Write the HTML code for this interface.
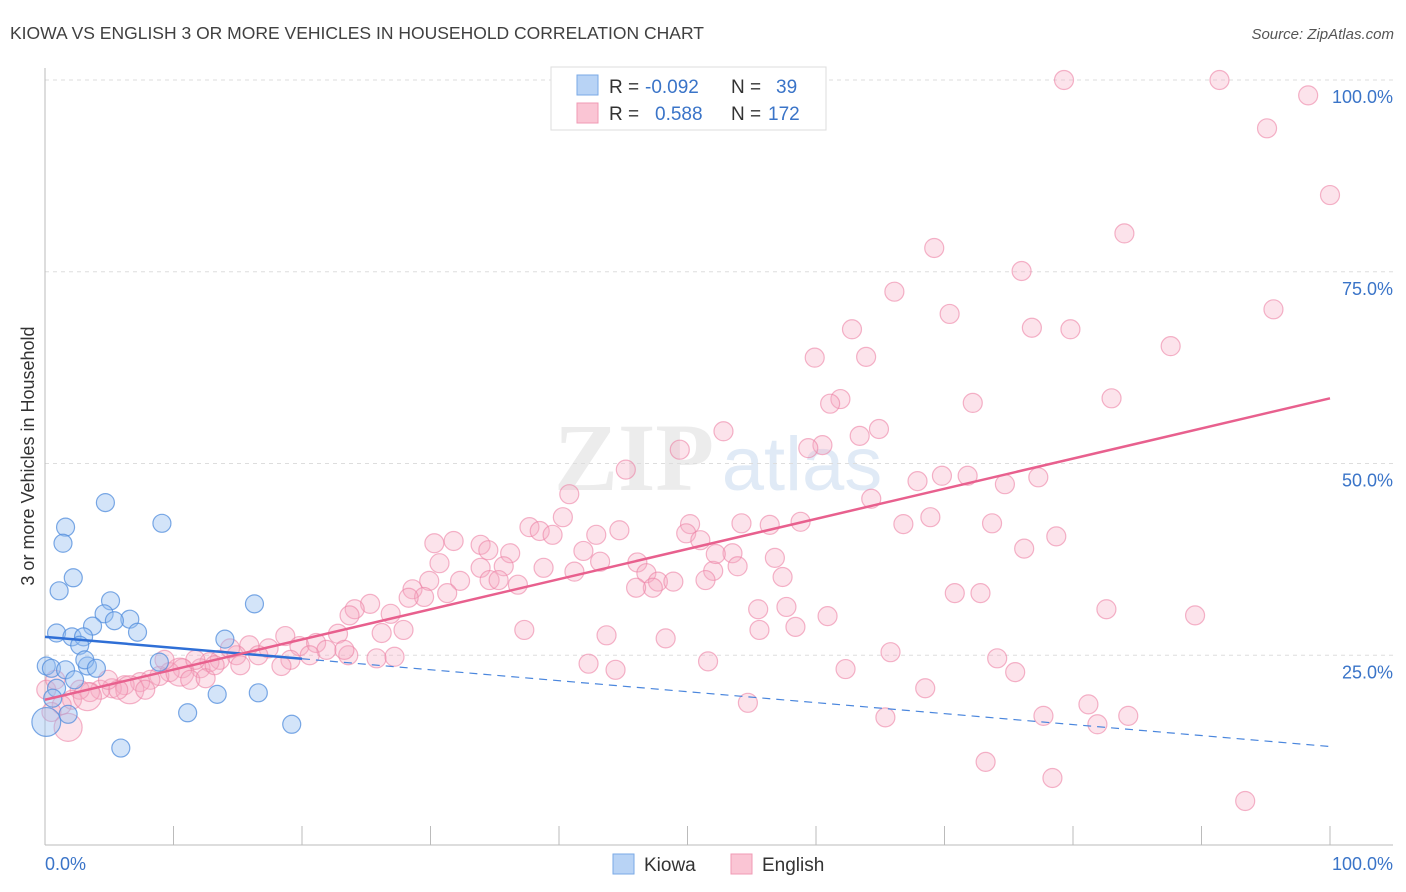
<!DOCTYPE html>
<html><head><meta charset="utf-8"><style>
body{margin:0;background:#fff;font-family:"Liberation Sans",sans-serif}
svg{display:block}
</style></head><body>
<svg width="1406" height="892" viewBox="0 0 1406 892" xmlns="http://www.w3.org/2000/svg">
<text x="10" y="39" font-size="17.5" fill="#404040">KIOWA VS ENGLISH 3 OR MORE VEHICLES IN HOUSEHOLD CORRELATION CHART</text>
<text x="1394" y="39" font-size="15" fill="#555" text-anchor="end" font-style="italic">Source: ZipAtlas.com</text>
<g opacity="0.35">
<text x="634" y="490" font-size="96" font-family="Liberation Serif,serif" fill="#c9c9c9" text-anchor="middle" font-weight="bold">ZIP</text>
<text x="802" y="490" font-size="76" fill="#a9c4e6" text-anchor="middle">atlas</text>
</g>
<g id="grid"></g>
<g id="axes"></g>
<g id="marks"></g>
<text transform="translate(34,456) rotate(-90)" font-size="18" fill="#333" text-anchor="middle">3 or more Vehicles in Household</text>
<text x="45" y="870" font-size="18" fill="#3a74c8">0.0%</text>
<text x="1393" y="870" font-size="18" fill="#3a74c8" text-anchor="end">100.0%</text>
<g>
<rect x="551" y="67" width="275" height="63" fill="#fff" stroke="#ddd"/>
<rect x="577" y="75" width="21" height="20" fill="#b8d3f5" stroke="#7aaae6"/>
<rect x="577" y="103" width="21" height="20" fill="#fac5d4" stroke="#f09ab4"/>
<text x="609" y="93" font-size="19" fill="#333">R =</text><text x="645" y="93" font-size="19" fill="#3a74c8">-0.092</text>
<text x="731" y="93" font-size="19" fill="#333">N =</text><text x="776" y="93" font-size="19" fill="#3a74c8">39</text>
<text x="609" y="120" font-size="19" fill="#333">R =</text><text x="655" y="120" font-size="19" fill="#3a74c8">0.588</text>
<text x="731" y="120" font-size="19" fill="#333">N =</text><text x="768" y="120" font-size="19" fill="#3a74c8">172</text>
</g>
<g>
<rect x="613" y="854" width="21" height="20" fill="#b8d3f5" stroke="#7aaae6"/>
<text x="644" y="871" font-size="19" fill="#333">Kiowa</text>
<rect x="731" y="854" width="21" height="20" fill="#fac5d4" stroke="#f09ab4"/>
<text x="762" y="871" font-size="19" fill="#333">English</text>
</g>
</svg>
<script>
const yTicks=[25,50,75,100];
const yTickLabels=["25.0%","50.0%","75.0%","100.0%"];
const xTicks=[0,10,20,30,40,50,60,70,80,90,100];
const kiowaX=[4.7,9.1,1.6,1.4,2.2,1.1,5.1,4.6,6.6,3.7,7.2,5.4,0.9,2.1,3.0,2.7,16.3,14.0,0.1,0.5,1.6,3.3,2.3,8.9,13.4,16.6,11.1,1.8,5.9,19.2,0.1,0.9,0.6,3.1,4.0];
const kiowaY=[44.9,42.2,41.7,39.6,35.1,33.4,32.1,30.4,29.7,28.8,28.0,29.5,27.9,27.4,27.4,26.3,31.7,27.1,23.6,23.3,23.1,23.6,21.8,24.1,19.9,20.1,17.5,17.3,12.9,16.0,16.3,20.7,19.4,24.4,23.3];
const kiowaSize=[1,1,1,1,1,1,1,1,1,1,1,1,1,1,1,1,1,1,1,1,1,1,1,1,1,1,1,1,1,1,1.6,1,1,1,1];
const englishX=[79.3,91.4,98.3,95.1,100,84,69.2,76,66.1,70.4,95.6,62.8,76.8,79.8,87.6,59.9,63.9,61.9,61.1,72.2,83,52.8,64.9,63.4,60.5,59.4,49.4,45.2,69.8,71.8,67.9,77.3,74.7,40.8,64.3,40.3,54.2,58.8,66.8,68.9,73.7,56.4,50.2,37.7,38.5,39.5,44.7,42.9,49.9,51,78.7,30.3,31.8,33.9,34.5,36.2,41.9,76.2,53.5,56.8,30.7,33.9,35.7,38.8,41.2,43.2,46.1,46.8,52,53.9,52.2,29.9,32.3,34.6,35.3,36.8,47.7,48.9,47.3,46,51.4,57.4,28.6,29.5,28.3,31.3,70.8,72.8,25.3,24.1,23.7,26.9,55.5,57.7,60.9,82.6,89.5,22.8,26.2,27.9,37.3,43.7,48.3,55.6,58.4,23.6,25.8,27.2,42.3,44.4,51.6,62.3,65.8,74.1,75.5,68.5,54.7,65.4,77.7,81.2,81.9,84.3,73.2,78.4,93.4,15.9,17.4,18.7,19.8,21.1,21.9,23.3,14.9,13.6,12.8,12.1,10.7,9.7,8.9,8.2,7.4,6.2,5.2,4.3,3.5,2.7,2.1,1.3,0.5,1.8,3.3,6.6,10.5,16.6,19.1,20.6,18.4,14.4,11.7,9.3,7.8,5.7,4.9,11.3,12.5,13.2,15.2,0.1,0.8];
const englishY=[100,100,98,93.7,85,80,78.1,75.1,72.4,69.5,70.1,67.5,67.7,67.5,65.3,63.8,63.9,58.4,57.8,57.9,58.5,54.2,54.5,53.6,52.4,52,51.8,49.2,48.4,48.4,47.7,48.2,47.3,46,45.4,43,42.2,42.4,42.1,43,42.2,42,42.1,41.7,41.2,40.7,41.3,40.7,40.9,40,40.5,39.6,39.9,39.4,38.7,38.3,38.6,38.9,38.3,37.7,37,36.4,36.6,36.4,35.9,37.2,37.1,35.7,36,36.6,38.2,34.7,34.7,34.8,34.8,34.2,34.6,34.6,33.8,33.8,34.8,35.2,33.6,32.6,32.5,33.1,33.1,33.1,31.7,31,30.2,30.4,31,31.3,30.1,31,30.2,27.8,27.9,28.3,28.3,27.6,27.2,28.3,28.7,25,24.6,24.8,23.9,23.1,24.2,23.2,25.4,24.6,22.8,20.7,18.8,16.9,17.1,18.6,16,17.1,11.1,9,6,26.3,25.9,27.5,26.2,26.6,25.7,25.7,25,24.4,24.1,23.3,23.3,22.8,22.3,21.8,21.5,21.1,20.7,20.5,20.2,20.5,19.2,18.5,17.6,15.6,19.6,20.5,22.8,25,24.4,25,23.6,25.9,24.4,24.4,20.5,20.5,21.8,21.8,22,23.7,23.7,20.5,21.8];
const bigEnglish=[1.8,3.3,6.6,10.5];
const kiowaTrend=[27.4,13.1];
const englishTrend=[19.2,58.5];
const kiowaSolidEnd=20;

const NS="http://www.w3.org/2000/svg";
const X0=45,X1=1330,Y0=847,YS=7.67;
function xs(p){return X0+(X1-X0)*p/100;}
function ys(v){return Y0-v*YS;}
function mk(t,a,parent){const e=document.createElementNS(NS,t);for(const k in a)e.setAttribute(k,a[k]);parent.appendChild(e);return e;}
const grid=document.getElementById('grid'),axes=document.getElementById('axes'),marks=document.getElementById('marks');
yTicks.forEach((v,i)=>{
  const l=mk('line',{x1:X0,x2:1393,y1:ys(v),y2:ys(v),stroke:'#ddd','stroke-dasharray':'4,4'},grid);
  
  
  const t=mk('text',{x:1393,y:ys(v)+23,'font-size':18,fill:'#3a74c8','text-anchor':'end'},axes);
  t.textContent=yTickLabels[i];
  
  
});
let a=mk('line',{x1:X0,x2:X0,y1:68,y2:845,stroke:'#bbb'},axes);


a=mk('line',{x1:X0,x2:1393,y1:845,y2:845,stroke:'#bbb'},axes);


xTicks.forEach(p=>{
  const t=mk('line',{x1:xs(p),x2:xs(p),y1:826,y2:845,stroke:'#bbb'},axes);
  
  
});
englishX.forEach((p,i)=>{
  const big=bigEnglish.includes(p)&&i>120;
  const c=mk('circle',{cx:xs(p),cy:ys(englishY[i]),r:big?14:9.5,fill:'rgba(246,170,195,0.33)',stroke:'rgba(236,130,165,0.6)','stroke-width':1.2},marks);
  
  
});
kiowaX.forEach((p,i)=>{
  const c=mk('circle',{cx:xs(p),cy:ys(kiowaY[i]),r:9*kiowaSize[i],fill:'rgba(150,190,240,0.42)',stroke:'rgba(80,140,220,0.75)','stroke-width':1.2},marks);
  
  
});
function kt(p){return kiowaTrend[0]+(kiowaTrend[1]-kiowaTrend[0])*p/100;}
let l=mk('line',{x1:xs(0),y1:ys(kt(0)),x2:xs(kiowaSolidEnd),y2:ys(kt(kiowaSolidEnd)),stroke:'#2f6fd6','stroke-width':2.5},marks);


l=mk('line',{x1:xs(kiowaSolidEnd),y1:ys(kt(kiowaSolidEnd)),x2:xs(100),y2:ys(kt(100)),stroke:'#4a86dd','stroke-width':1.2,'stroke-dasharray':'8,6'},marks);


l=mk('line',{x1:xs(0),y1:ys(englishTrend[0]),x2:xs(100),y2:ys(englishTrend[1]),stroke:'#e8608e','stroke-width':2.5},marks);


</script>
</body></html>
